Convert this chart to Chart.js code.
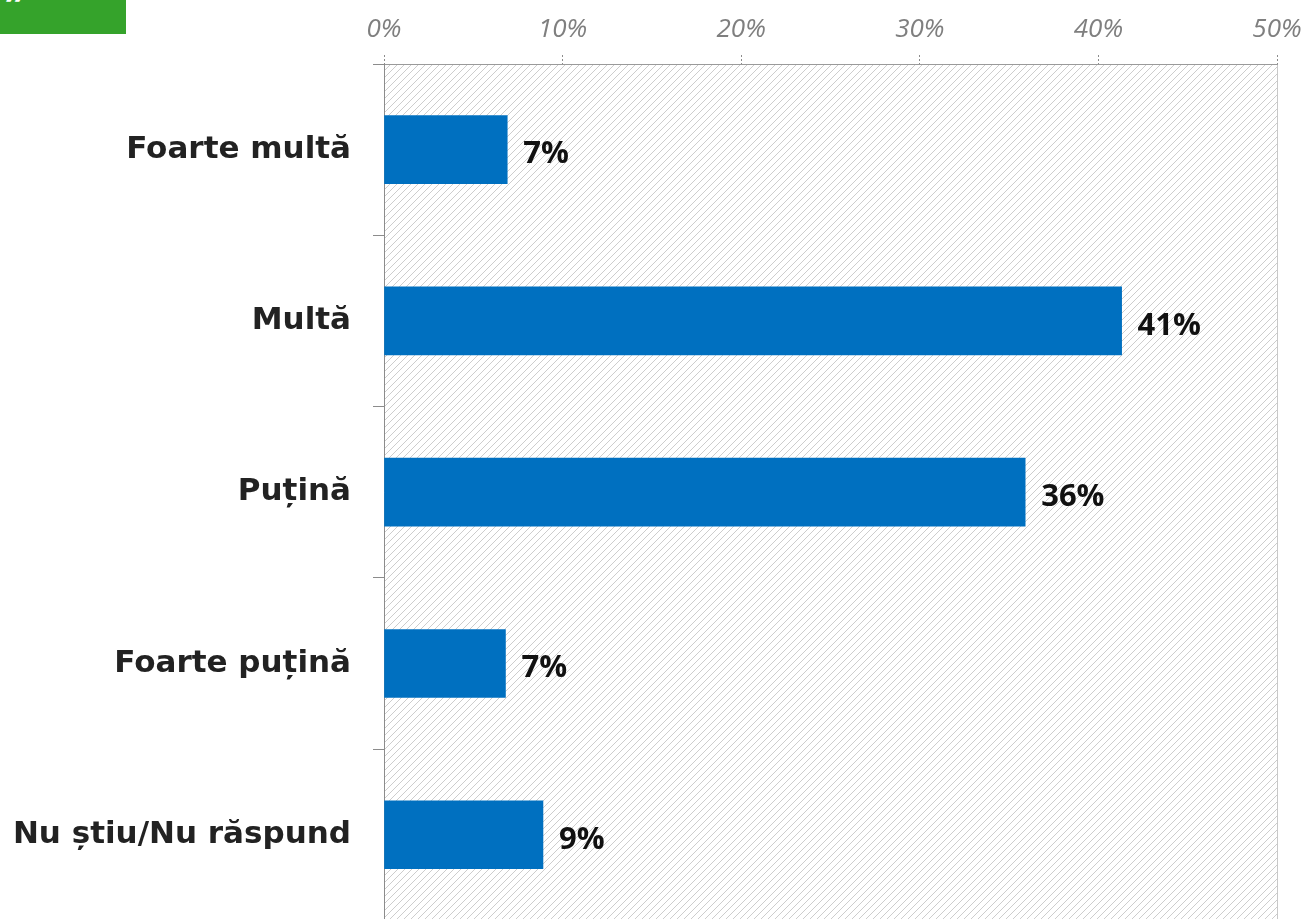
<!DOCTYPE html>
<html>
<head>
<meta charset="utf-8">
<title>Foarte multă / Multă / Puțină</title>
<script src="https://cdn.jsdelivr.net/npm/chart.js@4"></script>
<style>
    html, body { margin: 0; padding: 0; background: #fff; overflow: hidden; }
    .wrap { position: relative; width: 1306px; height: 919px; overflow: hidden; }
    .badge {
        position: absolute; left: 0; top: 0; width: 126px; height: 34px; box-sizing: border-box;
        background: #35a32b; color: #fff; overflow: hidden;
        font: italic bold 40px "Open Sans", sans-serif; line-height: 10px; padding-left: 4px;
    }
    canvas { position: absolute; left: 0; top: 0; }
</style>
</head>
<body>
<div class="wrap">
    <canvas id="chart" width="1306" height="961"></canvas>
    <div class="badge">”</div>
</div>

<script>
const categories = ['Foarte multă', 'Multă', 'Puțină', 'Foarte puțină', 'Nu știu/Nu răspund'];
const values = [6.9, 41.3, 35.9, 6.8, 8.9];
const valueLabels = ['7%', '41%', '36%', '7%', '9%'];
const xTicks = [0, 10, 20, 30, 40, 50];

// diagonal hatch pattern for the plot background
function hatch() {
    const c = document.createElement('canvas');
    c.width = 7; c.height = 7;
    const g = c.getContext('2d');
    g.strokeStyle = '#cdcdcd';
    g.lineWidth = 1;
    g.beginPath();
    g.moveTo(0, 7); g.lineTo(7, 0);
    g.moveTo(-2, 2); g.lineTo(2, -2);
    g.moveTo(5, 9); g.lineTo(9, 5);
    g.stroke();
    return g.createPattern(c, 'repeat');
}

const plotBg = {
    id: 'plotBg',
    beforeDraw(chart) {
        const { ctx, chartArea: a } = chart;
        ctx.save();
        ctx.fillStyle = hatch();
        ctx.fillRect(a.left, a.top, a.right - a.left, a.bottom - a.top);
        ctx.strokeStyle = '#c8c8c8';
        ctx.lineWidth = 1;
        ctx.beginPath();
        ctx.moveTo(a.right + 0.5, a.top);
        ctx.lineTo(a.right + 0.5, a.bottom);
        ctx.stroke();
        ctx.restore();
    }
};

const barLabels = {
    id: 'barLabels',
    afterDatasetsDraw(chart) {
        const { ctx } = chart;
        const meta = chart.getDatasetMeta(0);
        ctx.save();
        ctx.font = 'bold 31px "Open Sans", sans-serif';
        ctx.fillStyle = '#111';
        ctx.textBaseline = 'middle';
        meta.data.forEach((bar, i) => {
            ctx.fillText(valueLabels[i], bar.x + 16, bar.y + 5);
        });
        ctx.restore();
    }
};

new Chart(document.getElementById('chart'), {
    type: 'bar',
    data: {
        labels: categories,
        datasets: [{
            data: values,
            backgroundColor: '#0070c0',
            barThickness: 68
        }]
    },
    options: {
        indexAxis: 'y',
        responsive: false,
        animation: false,
        layout: { padding: { left: 0, right: 29, top: 0, bottom: 0 } },
        plugins: { legend: { display: false }, tooltip: { enabled: false } },
        scales: {
            x: {
                position: 'top',
                min: 0,
                max: 50,
                afterBuildTicks(axis) { axis.ticks = xTicks.map(v => ({ value: v })); },
                afterFit(axis) {
                    axis.height = 64;
                    axis.paddingLeft = 0;
                    axis.paddingRight = 0;
                },
                ticks: {
                    color: '#7f7f7f',
                    padding: 10,
                    font: { family: '"Open Sans", sans-serif', size: 26, style: 'italic' },
                    callback: v => v + '%'
                },
                grid: {
                    drawOnChartArea: false,
                    drawTicks: true,
                    tickLength: 9,
                    color: '#8c8c8c',
                    tickBorderDash: [2, 2]
                },
                border: { color: '#9a9a9a', dash: [2, 2], width: 1 }
            },
            y: {
                afterFit(axis) { axis.width = 384; },
                ticks: {
                    color: '#222',
                    padding: 22,
                    font: { family: '"DejaVu Sans", sans-serif', size: 31, weight: 'bold' }
                },
                grid: {
                    offset: true,
                    drawOnChartArea: false,
                    tickLength: 11,
                    color: '#8c8c8c'
                },
                border: { color: '#8c8c8c', width: 1 }
            }
        }
    },
    plugins: [plotBg, barLabels]
});
</script>
</body>
</html>
